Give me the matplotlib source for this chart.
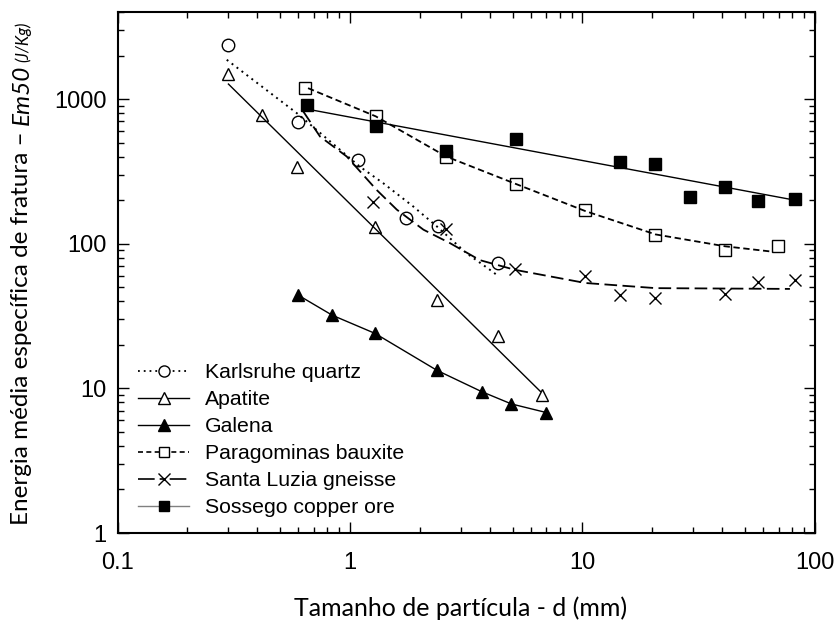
import matplotlib
matplotlib.use("Agg")
import matplotlib.pyplot as plt
from matplotlib.lines import Line2D
import numpy as np

# measured points (particle size in mm, energy in J/kg)
quartz_d = [0.30, 0.60, 1.08, 1.74, 2.38, 4.33]
quartz_e = [2350, 690, 380, 150, 132, 74]
quartz_fit_d = [0.295, 0.59, 0.906, 1.10, 1.39, 1.87, 2.36, 3.17, 4.0, 4.27]
quartz_fit_e = [1870, 800, 446, 342, 262, 181, 132, 86, 66, 61]

apatite_d = [0.30, 0.42, 0.59, 1.28, 2.36, 4.33, 6.7]
apatite_e = [1500, 770, 340, 130, 41, 23, 9.0]
apatite_fit_d = [0.30, 6.6]
apatite_fit_e = [1270, 9.5]

galena_d = [0.60, 0.84, 1.28, 2.37, 3.68, 4.95, 7.0]
galena_e = [44, 32, 24, 13.3, 9.5, 7.8, 6.8]

bauxite_d = [0.64, 1.29, 2.6, 5.2, 10.3, 20.6, 41, 69]
bauxite_e = [1190, 760, 400, 260, 170, 114, 90, 97]
bauxite_fit_d = [0.66, 1.29, 2.6, 5.2, 10.3, 20.6, 41, 66]
bauxite_fit_e = [1190, 760, 400, 258, 168, 116, 96, 88]

gneiss_d = [1.26, 2.6, 5.1, 10.3, 14.5, 20.5, 41, 57, 82]
gneiss_e = [195, 126, 67, 60, 44, 42, 45, 54, 56]
gneiss_fit_d = [0.63, 0.743, 0.968, 1.30, 1.59, 2.07, 2.69, 3.62, 5.12, 10.3, 20.7, 78]
gneiss_fit_e = [820, 551, 401, 236, 172, 125, 101, 77, 66, 53.5, 49.3, 48.7]

copper_d = [0.65, 1.29, 2.6, 5.2, 14.5, 20.6, 29, 41, 57, 82]
copper_e = [910, 650, 440, 530, 370, 355, 212, 246, 196, 204]
copper_fit_d = [0.66, 82]
copper_fit_e = [850, 200]

xticks = [0.1, 1, 10, 100]
xtick_labels = ["0.1", "1", "10", "100"]
yticks = [1, 10, 100, 1000]
ytick_labels = ["1", "10", "100", "1000"]

labels = ["Karlsruhe quartz", "Apatite", "Galena", "Paragominas bauxite",
          "Santa Luzia gneisse", "Sossego copper ore"]

W, H = 837, 626
fig = plt.figure(figsize=(W / 100, H / 100), dpi=100)
ax = fig.add_axes([117.5 / W, 1 - 533 / H, (815 - 117.5) / W, (533 - 12) / H])
ax.set_xscale("log")
ax.set_yscale("log")

lw = 1.0
k = dict(color="black", lw=lw)
mk = dict(ls="none", mec="black", mew=1.0)

# fitted curves
ax.plot(quartz_fit_d, quartz_fit_e, color="black", lw=1.4, ls=(0, (1, 2.2)))
ax.plot(apatite_fit_d, apatite_fit_e, ls="-", **k)
ax.plot(galena_d, galena_e, ls="-", **k)
ax.plot(bauxite_fit_d, bauxite_fit_e, color="black", lw=1.3, ls=(0, (3.5, 2)))
ax.plot(gneiss_fit_d, gneiss_fit_e, color="black", lw=1.3, ls=(0, (7, 3)))
ax.plot(copper_fit_d, copper_fit_e, ls="-", **k)

# data markers
ax.plot(quartz_d, quartz_e, marker="o", ms=9, mfc="none", **mk)
ax.plot(apatite_d, apatite_e, marker="^", ms=9, mfc="none", **mk)
ax.plot(galena_d, galena_e, marker="^", ms=9, mfc="black", **mk)
ax.plot(bauxite_d, bauxite_e, marker="s", ms=8, mfc="none", **mk)
ax.plot(gneiss_d, gneiss_e, marker="x", ms=9, mfc="none", **mk)
ax.plot(copper_d, copper_e, marker="s", ms=8, mfc="black", **mk)

ax.set_xlim(0.1, 100)
ax.set_ylim(1, 4000)
ax.set_xticks(xticks, xtick_labels)
ax.set_yticks(yticks, ytick_labels)
for s in ax.spines.values():
    s.set_linewidth(1.5)
ax.tick_params(which="both", direction="in", top=True, right=True, width=1.0)
ax.tick_params(which="major", length=8)
ax.tick_params(which="minor", length=4.5)
ax.tick_params(axis="y", which="major", pad=8, labelsize=17)
ax.tick_params(axis="x", which="major", pad=14, labelsize=17)
for t in ax.get_xticklabels() + ax.get_yticklabels():
    t.set_family("Liberation Sans")

# legend
handles = [
    Line2D([], [], color="black", lw=1.3, ls=(0, (1, 2.2)), marker="o", ms=8, mfc="white", mec="black"),
    Line2D([], [], color="black", lw=lw, ls="-", marker="^", ms=8, mfc="white", mec="black"),
    Line2D([], [], color="black", lw=lw, ls="-", marker="^", ms=8, mfc="black", mec="black"),
    Line2D([], [], color="black", lw=1.2, ls=(0, (3, 2)), marker="s", ms=7, mfc="white", mec="black"),
    Line2D([], [], color="black", lw=1.2, ls=(0, (10, 3, 3, 3)), marker="x", ms=8, mec="black"),
    Line2D([], [], color="0.5", lw=lw, ls="-", marker="s", ms=7, mfc="black", mec="black"),
]
ax.legend(handles, labels, loc="lower left", bbox_to_anchor=(0.03, 0.03),
          frameon=False, handlelength=2.4, handletextpad=0.75, labelspacing=0.38,
          borderpad=0, borderaxespad=0,
          prop={"family": "Liberation Sans", "size": 15.3})

# axis titles
fig.text(461 / W, 1 - 608 / H, "Tamanho de partícula - d (mm)", ha="center", va="center",
         family="Lato", fontsize=18)

ylab_font = dict(family="Lato", fontsize=17.5, rotation=90, ha="center")
x0 = 22 / W
main = fig.text(x0, 1 - 525 / H, "Energia média específica de fratura – ", va="bottom", **ylab_font)
fig.canvas.draw()
r = fig.canvas.get_renderer()
bb = main.get_window_extent(r)
em = fig.text(x0, bb.y1 / H, "Em50", va="bottom", style="italic", **ylab_font)
fig.canvas.draw()
bb2 = em.get_window_extent(r)
fig.text(x0 + 1 / W, bb2.y1 / H + 3 / H, "(J/Kg)", va="bottom", style="italic",
         family="Lato", fontsize=12, rotation=90, ha="center")

fig.savefig("out.png", dpi=100)
